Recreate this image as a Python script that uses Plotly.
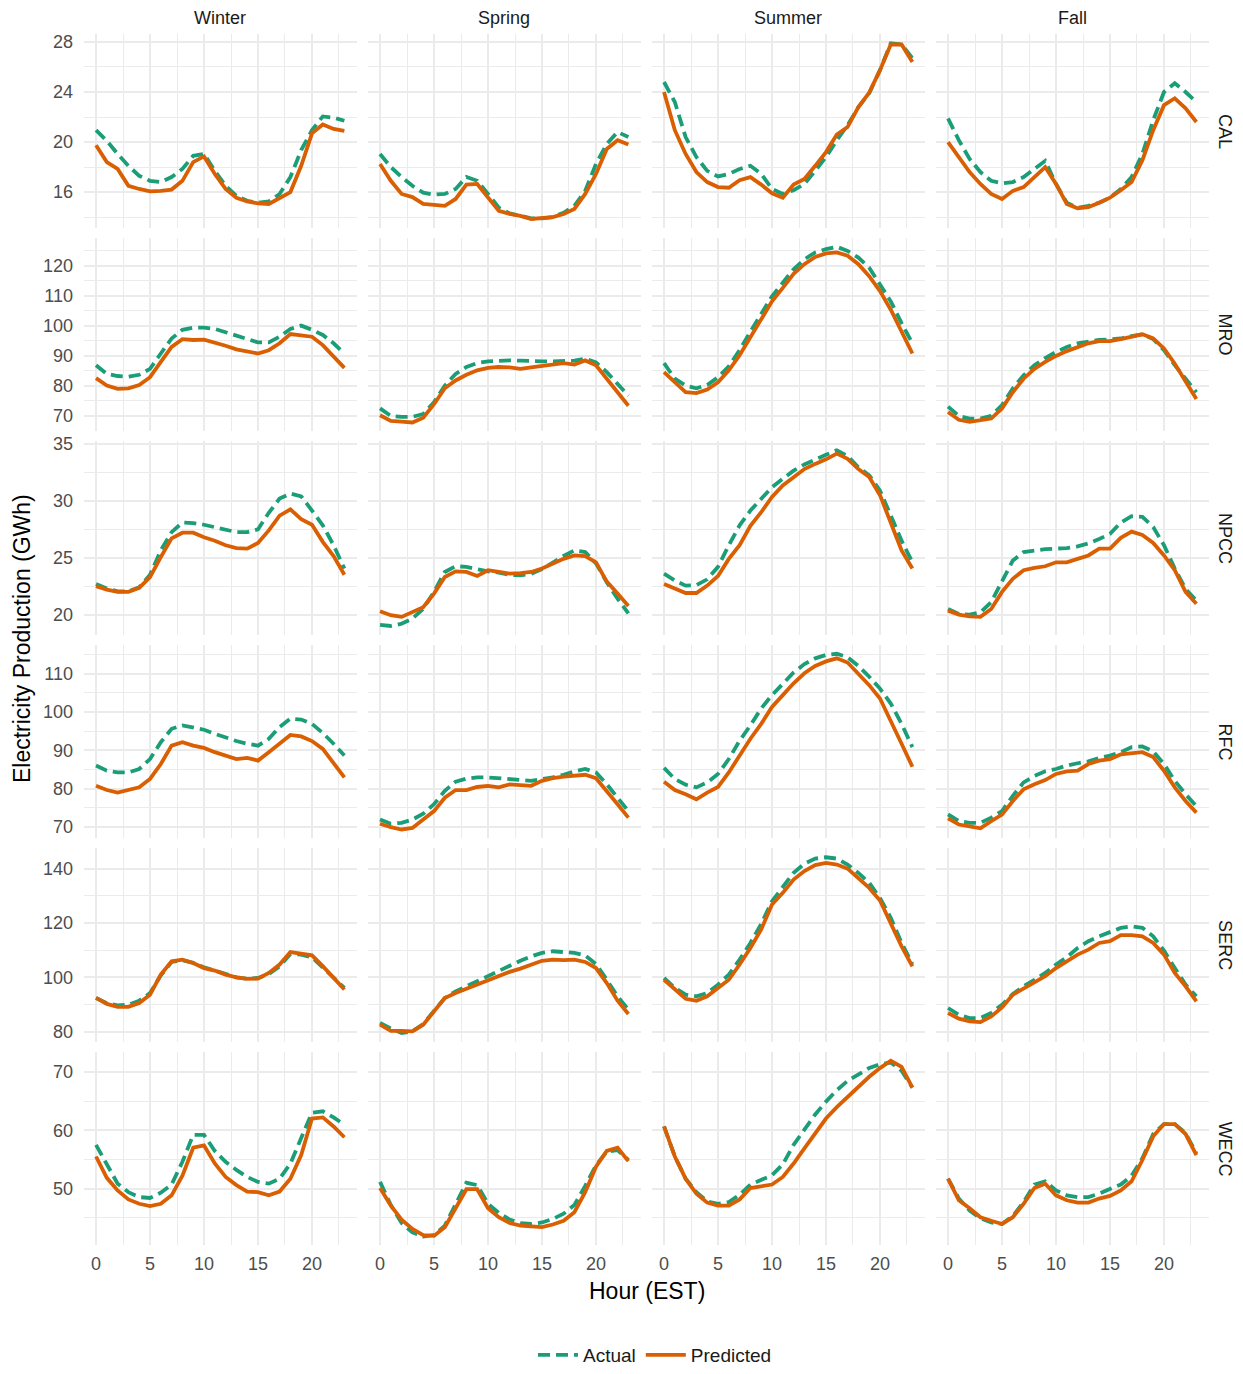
import plotly.graph_objects as go

hours = list(range(24))
seasons = ["Winter", "Spring", "Summer", "Fall"]
regions = ["CAL", "MRO", "NPCC", "RFC", "SERC", "WECC"]

# ---- CAL ----
cal_winter_actual = [20.95, 20.1, 19.05, 18.1, 17.3, 16.9, 16.8, 17.2, 17.85, 18.9, 19.05, 17.7, 16.5, 15.7, 15.3, 15.15, 15.25, 15.85, 17.2, 19.35, 20.95, 22.05, 21.95, 21.7]
cal_winter_predicted = [19.75, 18.4, 17.85, 16.5, 16.25, 16.05, 16.1, 16.2, 16.9, 18.4, 18.85, 17.45, 16.25, 15.55, 15.25, 15.1, 15.05, 15.5, 16.0, 18.1, 20.7, 21.4, 21.05, 20.9]
cal_spring_actual = [19.05, 18.0, 17.2, 16.5, 15.95, 15.8, 15.85, 16.25, 17.2, 16.9, 15.85, 14.75, 14.3, 14.1, 13.9, 13.9, 14.0, 14.35, 14.9, 16.1, 18.25, 19.85, 20.8, 20.4]
cal_spring_predicted = [18.25, 16.9, 15.85, 15.6, 15.05, 15.0, 14.9, 15.45, 16.6, 16.65, 15.6, 14.5, 14.25, 14.1, 13.85, 13.9, 14.0, 14.25, 14.65, 15.85, 17.45, 19.45, 20.15, 19.8]
cal_summer_actual = [24.8, 23.2, 20.4, 18.8, 17.7, 17.25, 17.45, 17.85, 18.1, 17.45, 16.25, 15.85, 16.15, 16.65, 17.7, 18.8, 20.15, 21.35, 22.8, 23.9, 25.75, 27.9, 27.8, 26.7]
cal_summer_predicted = [24.0, 20.95, 19.05, 17.6, 16.8, 16.4, 16.35, 16.95, 17.2, 16.6, 15.9, 15.55, 16.6, 17.05, 18.1, 19.2, 20.6, 21.2, 22.8, 23.95, 25.75, 27.8, 27.8, 26.4]
cal_fall_actual = [21.9, 20.15, 18.65, 17.6, 16.9, 16.7, 16.8, 17.2, 17.85, 18.5, 16.65, 15.15, 14.75, 14.9, 15.15, 15.55, 16.25, 17.2, 19.05, 21.75, 24.0, 24.7, 24.0, 23.2]
cal_fall_predicted = [20.0, 18.8, 17.6, 16.65, 15.85, 15.45, 16.1, 16.4, 17.2, 18.0, 16.65, 15.05, 14.7, 14.8, 15.15, 15.55, 16.15, 16.8, 18.55, 20.95, 22.95, 23.5, 22.7, 21.6]

# ---- MRO ----
mro_winter_actual = [86.9, 84.0, 83.3, 83.1, 83.7, 85.7, 90.8, 95.8, 98.7, 99.4, 99.4, 99.0, 97.9, 96.7, 95.5, 94.5, 94.5, 96.4, 99.0, 100.1, 98.7, 97.0, 94.2, 90.8]
mro_winter_predicted = [82.6, 80.1, 79.0, 79.2, 80.3, 82.9, 88.0, 93.0, 95.6, 95.3, 95.4, 94.5, 93.4, 92.2, 91.6, 90.8, 91.9, 94.2, 97.3, 97.0, 96.4, 93.6, 90.0, 86.0]
mro_spring_actual = [72.5, 70.0, 69.7, 69.7, 70.6, 74.5, 80.1, 84.0, 86.3, 87.6, 88.2, 88.5, 88.5, 88.4, 88.2, 88.2, 88.2, 88.4, 88.4, 89.1, 87.8, 84.6, 80.7, 76.7]
mro_spring_predicted = [70.2, 68.3, 68.1, 67.8, 69.4, 73.9, 79.2, 81.8, 83.7, 85.2, 86.0, 86.3, 86.2, 85.7, 86.2, 86.6, 87.1, 87.6, 87.1, 88.5, 86.9, 82.4, 77.6, 73.4]
mro_summer_actual = [87.6, 82.4, 80.1, 79.2, 80.3, 82.9, 86.5, 91.9, 98.1, 104.3, 109.9, 114.4, 118.9, 122.2, 124.5, 125.6, 126.4, 125.0, 122.8, 119.4, 113.8, 108.2, 100.9, 94.2]
mro_summer_predicted = [84.6, 81.2, 77.9, 77.6, 78.8, 81.2, 85.2, 90.2, 96.4, 102.6, 108.2, 112.7, 117.4, 120.6, 123.0, 124.2, 124.5, 123.4, 120.6, 116.6, 111.6, 105.4, 98.1, 90.8]
mro_fall_actual = [73.1, 70.0, 69.1, 69.1, 70.0, 73.6, 79.2, 83.5, 86.9, 89.3, 91.3, 93.0, 94.2, 94.9, 95.3, 95.5, 95.8, 96.6, 97.2, 95.6, 91.9, 86.9, 82.4, 77.9]
mro_fall_predicted = [71.3, 68.7, 68.0, 68.5, 69.1, 72.5, 77.9, 82.4, 85.7, 88.0, 90.0, 91.6, 93.0, 94.2, 94.9, 94.9, 95.6, 96.4, 97.2, 95.8, 92.5, 87.4, 81.2, 75.6]

# ---- NPCC ----
npcc_winter_actual = [22.7, 22.3, 22.05, 22.05, 22.4, 23.5, 25.65, 27.25, 28.1, 28.05, 27.9, 27.7, 27.45, 27.25, 27.25, 27.5, 28.95, 30.2, 30.65, 30.4, 29.15, 27.85, 26.1, 24.05]
npcc_winter_predicted = [22.5, 22.2, 22.0, 22.0, 22.35, 23.3, 25.05, 26.7, 27.2, 27.2, 26.8, 26.5, 26.1, 25.85, 25.8, 26.3, 27.4, 28.7, 29.25, 28.4, 27.9, 26.4, 25.15, 23.5]
npcc_spring_actual = [19.1, 19.0, 19.2, 19.65, 20.5, 22.0, 23.75, 24.25, 24.2, 24.0, 23.8, 23.7, 23.5, 23.45, 23.6, 24.0, 24.6, 25.15, 25.65, 25.5, 24.5, 22.85, 21.4, 20.1]
npcc_spring_predicted = [20.3, 19.95, 19.8, 20.2, 20.65, 21.85, 23.3, 23.8, 23.75, 23.4, 23.9, 23.75, 23.6, 23.65, 23.75, 24.05, 24.5, 24.9, 25.2, 25.15, 24.6, 22.9, 21.85, 20.75]
npcc_summer_actual = [23.6, 23.0, 22.55, 22.6, 23.1, 24.2, 26.1, 27.85, 29.15, 30.2, 31.2, 31.95, 32.65, 33.2, 33.65, 34.05, 34.45, 33.95, 32.95, 32.25, 30.9, 28.7, 26.5, 24.6]
npcc_summer_predicted = [22.7, 22.3, 21.9, 21.9, 22.55, 23.4, 24.9, 26.1, 27.8, 29.0, 30.35, 31.35, 32.1, 32.8, 33.25, 33.65, 34.15, 33.7, 32.8, 32.1, 30.5, 28.15, 25.65, 24.05]
npcc_fall_actual = [20.5, 20.05, 20.0, 20.2, 21.1, 22.85, 24.75, 25.5, 25.65, 25.75, 25.8, 25.85, 26.0, 26.25, 26.65, 27.1, 28.1, 28.65, 28.6, 27.7, 26.1, 24.05, 22.25, 21.25]
npcc_fall_predicted = [20.35, 20.0, 19.85, 19.8, 20.5, 22.0, 23.15, 23.9, 24.1, 24.25, 24.6, 24.6, 24.9, 25.2, 25.8, 25.8, 26.75, 27.3, 27.0, 26.3, 25.2, 23.9, 22.0, 20.95]

# ---- RFC ----
rfc_winter_actual = [86.0, 84.65, 84.2, 84.2, 85.1, 87.7, 92.1, 95.6, 96.5, 96.05, 95.35, 94.3, 93.25, 92.4, 91.7, 91.2, 93.0, 96.05, 98.25, 98.0, 96.9, 94.5, 91.7, 88.6]
rfc_winter_predicted = [80.7, 79.6, 78.95, 79.6, 80.3, 82.5, 86.4, 91.2, 92.1, 91.2, 90.6, 89.5, 88.6, 87.7, 88.0, 87.3, 89.5, 91.7, 94.0, 93.6, 92.4, 90.35, 86.8, 82.9]
rfc_spring_actual = [71.9, 70.8, 71.05, 71.9, 73.4, 75.9, 79.4, 81.8, 82.6, 82.9, 82.9, 82.7, 82.5, 82.2, 82.0, 82.5, 82.9, 83.6, 84.5, 85.1, 84.2, 81.1, 77.6, 74.1]
rfc_spring_predicted = [70.8, 69.9, 69.3, 69.7, 71.9, 74.1, 77.6, 79.6, 79.6, 80.4, 80.7, 80.3, 81.1, 81.0, 80.7, 82.0, 82.7, 83.1, 83.3, 83.6, 82.7, 79.4, 75.9, 72.4]
rfc_summer_actual = [85.4, 82.5, 81.0, 80.3, 81.6, 83.8, 87.7, 92.5, 96.5, 100.9, 104.4, 107.5, 110.3, 112.5, 114.0, 114.9, 115.2, 114.3, 112.0, 109.2, 106.1, 102.2, 96.9, 90.8]
rfc_summer_predicted = [81.8, 79.6, 78.5, 77.2, 78.95, 80.4, 84.2, 88.6, 93.0, 96.9, 101.3, 104.4, 107.5, 110.1, 112.0, 113.2, 114.0, 112.9, 110.1, 107.0, 103.5, 97.8, 91.7, 85.7]
rfc_fall_actual = [73.25, 71.5, 71.05, 71.05, 72.4, 74.1, 78.1, 81.6, 83.3, 84.5, 85.1, 86.0, 86.6, 87.1, 88.0, 88.6, 89.5, 90.8, 91.0, 89.7, 86.4, 82.0, 78.5, 75.4]
rfc_fall_predicted = [72.2, 70.6, 70.1, 69.6, 71.5, 73.2, 76.75, 79.8, 81.1, 82.2, 83.8, 84.5, 84.65, 86.4, 87.3, 87.7, 88.9, 89.3, 89.5, 88.2, 84.65, 80.3, 76.75, 73.7]

# ---- SERC ----
serc_winter_actual = [92.4, 90.5, 89.7, 89.9, 91.4, 94.2, 100.7, 105.65, 106.3, 105.3, 103.7, 102.5, 101.0, 100.0, 99.5, 99.75, 101.2, 104.05, 108.6, 108.35, 107.4, 103.7, 99.75, 96.1]
serc_winter_predicted = [92.4, 90.2, 89.1, 89.1, 90.5, 93.6, 101.0, 105.9, 106.5, 105.3, 103.4, 102.5, 101.0, 100.0, 99.4, 99.5, 101.6, 104.7, 109.3, 108.6, 108.1, 104.1, 99.75, 95.5]
serc_spring_actual = [83.2, 81.1, 79.5, 80.1, 82.8, 87.5, 92.4, 94.8, 96.7, 98.8, 100.4, 102.5, 104.4, 106.1, 107.7, 109.0, 109.6, 109.3, 109.0, 108.1, 104.9, 99.1, 93.0, 88.1]
serc_spring_predicted = [82.55, 80.3, 80.3, 80.1, 82.55, 87.5, 92.4, 94.2, 95.8, 97.5, 98.8, 100.4, 102.0, 103.2, 104.7, 106.1, 106.5, 106.3, 106.5, 105.65, 103.4, 97.9, 91.4, 86.5]
serc_summer_actual = [99.75, 96.1, 93.6, 93.0, 94.2, 97.3, 101.0, 106.5, 112.65, 119.65, 128.0, 133.2, 138.45, 141.8, 143.7, 144.2, 143.7, 141.5, 138.45, 134.8, 129.2, 121.9, 112.65, 104.9]
serc_summer_predicted = [99.1, 95.5, 92.1, 91.4, 93.0, 96.1, 99.1, 104.7, 110.8, 117.6, 126.8, 131.1, 136.0, 139.1, 141.3, 142.1, 141.5, 140.0, 136.6, 132.9, 128.3, 120.0, 111.4, 104.05]
serc_fall_actual = [88.7, 86.2, 85.0, 85.0, 86.85, 89.9, 93.85, 96.7, 99.1, 101.6, 104.7, 107.4, 110.8, 113.3, 115.1, 116.7, 118.2, 118.8, 118.2, 115.1, 109.8, 103.4, 97.3, 93.0]
serc_fall_predicted = [86.85, 84.8, 83.8, 83.5, 85.6, 88.9, 93.6, 95.8, 98.3, 100.4, 103.4, 105.9, 108.35, 110.2, 112.65, 113.3, 115.5, 115.5, 115.1, 112.65, 108.35, 101.6, 96.7, 91.15]

# ---- WECC ----
wecc_winter_actual = [57.5, 54.3, 50.85, 49.4, 48.55, 48.4, 49.3, 50.7, 54.6, 59.2, 59.2, 56.45, 54.6, 53.2, 52.0, 51.15, 50.85, 51.7, 54.3, 58.65, 63.0, 63.25, 62.2, 60.95]
wecc_winter_predicted = [55.5, 51.85, 49.7, 48.15, 47.4, 47.0, 47.4, 48.85, 52.2, 57.0, 57.4, 54.3, 52.0, 50.6, 49.5, 49.4, 48.85, 49.5, 51.7, 55.75, 62.0, 62.2, 60.65, 58.8]
wecc_spring_actual = [51.15, 47.2, 44.1, 42.5, 41.8, 42.05, 43.65, 47.4, 51.0, 50.6, 47.4, 45.85, 44.7, 44.1, 43.95, 44.2, 44.8, 45.7, 47.2, 50.45, 54.0, 56.35, 56.6, 54.9]
wecc_spring_predicted = [50.1, 47.1, 44.7, 43.1, 42.05, 41.9, 43.4, 46.5, 49.9, 49.9, 46.65, 45.1, 44.1, 43.65, 43.55, 43.4, 43.85, 44.5, 45.95, 49.4, 53.75, 56.45, 57.0, 54.7]
wecc_summer_actual = [60.65, 55.5, 51.7, 49.4, 47.8, 47.4, 47.7, 48.95, 50.7, 51.45, 52.3, 54.15, 57.5, 60.1, 62.7, 64.9, 66.85, 68.45, 69.6, 70.65, 71.3, 71.6, 70.2, 67.3]
wecc_summer_predicted = [60.65, 55.5, 51.7, 49.15, 47.6, 47.1, 47.1, 48.15, 50.1, 50.45, 50.7, 52.0, 54.3, 56.9, 59.5, 62.0, 63.95, 65.7, 67.4, 69.15, 70.65, 71.9, 70.85, 67.3]
wecc_fall_actual = [51.7, 48.3, 46.25, 44.9, 44.2, 43.95, 45.3, 47.7, 50.7, 51.25, 49.7, 48.85, 48.55, 48.55, 49.15, 49.9, 50.7, 52.2, 55.2, 59.35, 61.05, 61.05, 59.5, 56.05]
wecc_fall_predicted = [51.7, 48.0, 46.65, 45.1, 44.5, 43.95, 45.1, 47.4, 50.1, 50.85, 48.85, 48.0, 47.6, 47.6, 48.3, 48.75, 49.7, 51.25, 54.9, 58.95, 61.05, 61.05, 59.35, 55.75]

# lookup built from the named lists above
data = {}
for r in regions:
    for s in seasons:
        key = f"{r.lower()}_{s.lower()}"
        data[(r, s)] = (globals()[key + "_actual"], globals()[key + "_predicted"])

# ---- styling / layout ----
W, H = 1243, 1374
FONT = "Liberation Sans, Arial, Helvetica, sans-serif"
GREEN = "#1B9E77"
ORANGE = "#D95F02"
GRID = "#EBEBEB"
row_dtick = [4, 10, 5, 10, 20, 10]

col_left0, col_step, col_w = 83.6, 284.0, 273.2
row_top0, row_step, row_h = 34.5, 203.8, 193.6

fig = go.Figure()
layout = dict(
    width=W, height=H,
    margin=dict(l=0, r=0, t=0, b=0),
    paper_bgcolor="white", plot_bgcolor="white",
    font=dict(family=FONT, size=18, color="#4D4D4D"),
    showlegend=True,
)

annotations = []
for ri, r in enumerate(regions):
    vals = []
    for s in seasons:
        a, p = data[(r, s)]
        vals += a + p
    lo, hi = min(vals), max(vals)
    pad = (hi - lo) * 0.05
    yr = [lo - pad, hi + pad]
    top = row_top0 + ri * row_step
    bot = top + row_h
    ydom = [1 - bot / H, 1 - top / H]
    for ci, s in enumerate(seasons):
        idx = ri * 4 + ci + 1
        sfx = "" if idx == 1 else str(idx)
        left = col_left0 + ci * col_step
        xdom = [left / W, (left + col_w) / W]
        layout["xaxis" + sfx] = dict(
            domain=xdom, anchor="y" + sfx, range=[-1.15, 24.15],
            dtick=5, tick0=0, showgrid=True, gridcolor=GRID, gridwidth=1.6,
            minor=dict(dtick=2.5, tick0=0, showgrid=True, gridcolor=GRID, gridwidth=0.8),
            zeroline=False, showline=False,
            ticks="outside", ticklen=2, tickcolor="rgba(0,0,0,0)",
            showticklabels=(ri == len(regions) - 1),
            tickfont=dict(size=18, color="#4D4D4D", family=FONT),
            automargin=False,
        )
        layout["yaxis" + sfx] = dict(
            domain=ydom, anchor="x" + sfx, range=yr,
            dtick=row_dtick[ri], tick0=0, showgrid=True, gridcolor=GRID, gridwidth=1.6,
            minor=dict(dtick=row_dtick[ri] / 2, tick0=0, showgrid=True, gridcolor=GRID, gridwidth=0.8),
            zeroline=False, showline=False,
            ticks="outside", ticklen=6, tickcolor="rgba(0,0,0,0)",
            showticklabels=(ci == 0),
            tickfont=dict(size=18, color="#4D4D4D", family=FONT),
            automargin=False,
        )
        a, p = data[(r, s)]
        first = (ri == 0 and ci == 0)
        fig.add_trace(go.Scatter(
            x=hours, y=a, mode="lines", name="Actual", legendgroup="Actual",
            showlegend=first, xaxis="x" + sfx, yaxis="y" + sfx,
            line=dict(color=GREEN, width=3.8, dash="12px,6px"),
        ))
        fig.add_trace(go.Scatter(
            x=hours, y=p, mode="lines", name="Predicted", legendgroup="Predicted",
            showlegend=first, xaxis="x" + sfx, yaxis="y" + sfx,
            line=dict(color=ORANGE, width=3.8),
        ))
        if ri == 0:
            annotations.append(dict(
                text=s, x=(left + col_w / 2) / W, y=1 - 18 / H, xref="paper", yref="paper",
                showarrow=False, xanchor="center", yanchor="middle",
                font=dict(size=18, color="#1A1A1A", family=FONT),
            ))
    annotations.append(dict(
        text=r, x=1225 / W, y=1 - (top + row_h / 2) / H, xref="paper", yref="paper",
        showarrow=False, xanchor="center", yanchor="middle", textangle=90,
        font=dict(size=18, color="#1A1A1A", family=FONT),
    ))

annotations.append(dict(
    text="Hour (EST)", x=647 / W, y=1 - 1293 / H, xref="paper", yref="paper",
    showarrow=False, xanchor="center", yanchor="middle",
    font=dict(size=23, color="#000000", family=FONT),
))
annotations.append(dict(
    text="Electricity Production (GWh)", x=22 / W, y=1 - 640 / H, xref="paper", yref="paper",
    showarrow=False, xanchor="center", yanchor="middle", textangle=-90,
    font=dict(size=23, color="#000000", family=FONT),
))

layout["annotations"] = annotations
layout["legend"] = dict(
    orientation="h", x=655 / W, y=1 - 1357 / H, xanchor="center", yanchor="middle",
    font=dict(size=19, color="#1A1A1A", family=FONT), bgcolor="rgba(0,0,0,0)",
    traceorder="normal", itemwidth=40,
)
fig.update_layout(**layout)
fig.write_html("out.html")
